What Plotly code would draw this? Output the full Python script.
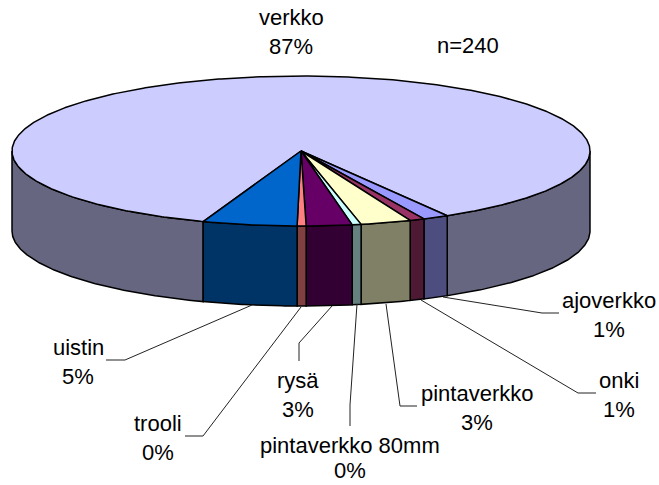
import numpy as np
import plotly.graph_objects as go

# Slices in clockwise drawing order, starting at the right-hand edge of the front group
categories = ["ajoverkko", "onki", "pintaverkko", "pintaverkko 80mm", "rysä", "trooli", "uistin", "verkko"]
shares = [1.45, 0.83, 2.83, 0.5, 2.55, 0.5, 5.28, 86.06]
percent_labels = ["1%", "1%", "3%", "0%", "3%", "0%", "5%", "87%"]

top_colors = ["#9999FF", "#993366", "#FFFFCC", "#CCFFFF", "#660066", "#FF8080", "#0066CC", "#CCCCFF"]
side_colors = ["#4D4D80", "#4D1933", "#808066", "#668080", "#330033", "#804040", "#003366", "#666680"]

# Pie geometry in page pixels
CX, CY, RX, RY, DEPTH = 301, 151, 289, 75, 80
START_DEG = 149.6

label_pos = {
    "ajoverkko": (609, 300), "onki": (619, 380), "pintaverkko": (477, 393),
    "pintaverkko 80mm": (350, 445), "rysä": (298, 380), "trooli": (158, 423),
    "uistin": (78, 347), "verkko": (291, 17),
}
line_gaps = {"pintaverkko 80mm": 25}
leaders = {
    "ajoverkko": [(443, 297), (542, 313), (559, 313)],
    "onki": [(421, 300), (578, 393), (596, 393)],
    "pintaverkko": [(386, 304), (400, 406), (417, 406)],
    "pintaverkko 80mm": [(357, 304), (350, 405), (350, 426)],
    "rysä": [(332, 306), (299, 343), (299, 361)],
    "trooli": [(301, 307), (203, 436), (185, 436)],
    "uistin": [(252, 305), (125, 360), (106, 360)],
}
LINE_GAP = 29
FONT = dict(family="Liberation Sans, Arial, sans-serif", size=22, color="#000000")


def pt(theta_deg, dz=0.0):
    t = np.radians(theta_deg)
    return CX + RX * np.sin(t), CY - RY * np.cos(t) + dz


fig = go.Figure()


def add_poly(xs, ys, color, width=1.5):
    fig.add_trace(go.Scatter(x=xs, y=ys, mode="lines", fill="toself", fillcolor=color,
                             line=dict(color="black", width=width), hoverinfo="skip",
                             showlegend=False))


def add_side(a0, a1, color):
    th = np.linspace(a0, a1, max(int(abs(a1 - a0) * 2), 2) + 1)
    x0, y0 = pt(th)
    x1, y1 = pt(th[::-1], DEPTH)
    add_poly(list(x0) + list(x1) + [x0[0]], list(y0) + list(y1) + [y0[0]], color)


edges = START_DEG + np.concatenate([[0], np.cumsum(shares)]) * 360.0 / sum(shares)
spans = list(zip(edges[:-1], edges[1:]))

# Side walls: only the front half (90..270 degrees) is visible
a0, a1 = spans[-1]
add_side(a0, 270, side_colors[-1])
add_side(90, a1 - 360 if a1 > 360 else a1, side_colors[-1])
for (a0, a1), c in zip(spans[:-1], side_colors[:-1]):
    add_side(a0, a1, c)

# Top face: largest slice first, then the small ones over it
order = [7, 0, 1, 2, 3, 4, 5, 6]
for i in order:
    a0, a1 = spans[i]
    th = np.linspace(a0, a1, max(int((a1 - a0) * 2), 2) + 1)
    x, y = pt(th)
    add_poly([CX] + list(x) + [CX], [CY] + list(y) + [CY], top_colors[i])

# Leader lines
for name, pts in leaders.items():
    fig.add_trace(go.Scatter(x=[p[0] for p in pts], y=[p[1] for p in pts], mode="lines",
                             line=dict(color="#222222", width=1), hoverinfo="skip",
                             showlegend=False))

# Text
ann = []
for name, pct in zip(categories, percent_labels):
    x, y = label_pos[name]
    gap = line_gaps.get(name, LINE_GAP)
    ann.append(dict(x=x, y=y, text=name, showarrow=False, font=FONT, xanchor="center", yanchor="middle"))
    ann.append(dict(x=x, y=y + gap, text=pct, showarrow=False, font=FONT, xanchor="center", yanchor="middle"))
ann.append(dict(x=468, y=45, text="n=240", showarrow=False, font=FONT, xanchor="center", yanchor="middle"))

fig.update_layout(
    width=659, height=485, margin=dict(l=0, r=0, t=0, b=0),
    paper_bgcolor="white", plot_bgcolor="white", annotations=ann, showlegend=False,
    xaxis=dict(range=[0, 659], visible=False, fixedrange=True),
    yaxis=dict(range=[485, 0], visible=False, fixedrange=True),
)
fig.write_html("out.html", config={"displayModeBar": False},
               post_script="document.body.style.margin='0';")
